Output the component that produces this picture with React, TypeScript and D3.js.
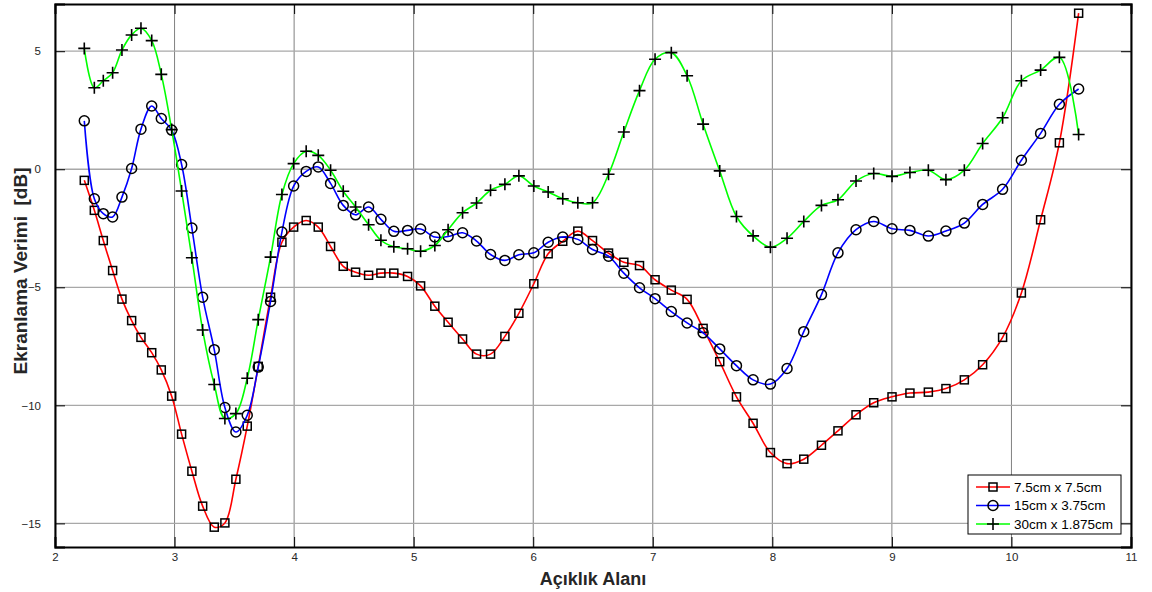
import React, { useEffect, useRef } from "react";
import * as d3 from "d3";

// aperture values (shared by all three series)
const apertures = [
  2.245, 2.329, 2.404, 2.482, 2.56, 2.641, 2.719, 2.809, 2.889, 2.976,
  3.059, 3.145, 3.235, 3.332, 3.421, 3.513, 3.608, 3.7, 3.803, 3.898,
  3.996, 4.101, 4.202, 4.305, 4.411, 4.514, 4.623, 4.726, 4.834, 4.949,
  5.058, 5.177, 5.288, 5.409, 5.526, 5.643, 5.763, 5.88, 6.005, 6.125,
  6.247, 6.373, 6.496, 6.63, 6.758, 6.889, 7.019, 7.155, 7.287, 7.421,
  7.56, 7.7, 7.839, 7.984, 8.123, 8.263, 8.411, 8.549, 8.7, 8.848,
  9.001, 9.151, 9.305, 9.452, 9.606, 9.759, 9.926, 10.083, 10.244, 10.401,
  10.562,
];

const series1 = [
  -0.47, -1.74, -3.02, -4.29, -5.5, -6.41, -7.12, -7.77, -8.5, -9.61,
  -11.22, -12.79, -14.27, -15.16, -14.98, -13.13, -10.88, -8.35, -5.42, -3.09,
  -2.45, -2.17, -2.45, -3.27, -4.11, -4.36, -4.49, -4.4, -4.4, -4.54,
  -4.94, -5.8, -6.48, -7.19, -7.83, -7.83, -7.08, -6.1, -4.85, -3.58,
  -3.05, -2.62, -3.02, -3.55, -3.94, -4.08, -4.68, -5.12, -5.51, -6.74,
  -8.15, -9.64, -10.76, -12.0, -12.47, -12.28, -11.69, -11.08, -10.4, -9.89,
  -9.64, -9.48, -9.44, -9.29, -8.92, -8.28, -7.12, -5.24, -2.14, 1.12,
  6.61,
];

const series2 = [
  2.05, -1.25, -1.88, -2.02, -1.18, 0.03, 1.7, 2.68, 2.15, 1.66,
  0.2, -2.49, -5.42, -7.64, -10.09, -11.13, -10.42, -8.38, -5.6, -2.66,
  -0.71, -0.09, 0.1, -0.6, -1.53, -1.93, -1.6, -2.12, -2.63, -2.59,
  -2.53, -2.87, -2.85, -2.69, -3.04, -3.61, -3.86, -3.62, -3.54, -3.09,
  -2.87, -2.97, -3.4, -3.68, -4.4, -5.02, -5.48, -6.03, -6.51, -6.93,
  -7.61, -8.32, -8.92, -9.1, -8.44, -6.88, -5.31, -3.54, -2.56, -2.21,
  -2.52, -2.59, -2.83, -2.62, -2.28, -1.49, -0.85, 0.38, 1.52, 2.75,
  3.4,
];

const series3 = [
  5.12, 3.45, 3.75, 4.09, 5.05, 5.69, 5.97, 5.45, 4.02, 1.68,
  -0.92, -3.75, -6.81, -9.12, -10.56, -10.35, -8.85, -6.37, -3.72, -1.07,
  0.24, 0.76, 0.59, -0.04, -0.93, -1.6, -2.35, -3.01, -3.28, -3.37,
  -3.47, -3.23, -2.56, -1.84, -1.43, -0.89, -0.64, -0.28, -0.71, -0.96,
  -1.25, -1.42, -1.42, -0.21, 1.58, 3.33, 4.66, 4.94, 3.96, 1.91,
  -0.07, -2.0, -2.82, -3.3, -2.92, -2.21, -1.53, -1.29, -0.5, -0.18,
  -0.3, -0.14, -0.04, -0.44, -0.04, 1.09, 2.18, 3.75, 4.2, 4.74,
  1.47,
];

const seriesNames = ["7.5cm x 7.5cm", "15cm x 3.75cm", "30cm x 1.875cm"];
const seriesColors = ["#ff0000", "#0000ff", "#00ff00"];
const seriesMarkers = ["square", "circle", "plus"];
const xTicks = [2, 3, 4, 5, 6, 7, 8, 9, 10, 11];
const yTicks = [-15, -10, -5, 0, 5];

const W = 1152;
const H = 592;
const margin = { top: 4, right: 21, bottom: 45, left: 55 };

function drawMarker(g: any, kind: string, x: number, y: number) {
  if (kind === "square") {
    g.append("rect").attr("x", x - 4).attr("y", y - 4).attr("width", 8).attr("height", 8)
      .attr("fill", "none").attr("stroke", "#000").attr("stroke-width", 1.5);
  } else if (kind === "circle") {
    g.append("circle").attr("cx", x).attr("cy", y).attr("r", 5)
      .attr("fill", "none").attr("stroke", "#000").attr("stroke-width", 1.5);
  } else {
    g.append("path").attr("d", `M${x - 6},${y}H${x + 6}M${x},${y - 6}V${y + 6}`)
      .attr("stroke", "#000").attr("stroke-width", 1.6);
  }
}

export default function App() {
  const ref = useRef<SVGSVGElement>(null);

  useEffect(() => {
    const svg = d3.select(ref.current);
    svg.selectAll("*").remove();

    const width = W - margin.left - margin.right;
    const height = H - margin.top - margin.bottom;

    const x = d3.scaleLinear().domain([2, 11]).range([margin.left, margin.left + width]);
    const y = d3.scaleLinear().domain([-16, 7]).range([margin.top + height, margin.top]);

    svg.append("rect").attr("x", 0).attr("y", 0).attr("width", W).attr("height", H).attr("fill", "#fff");

    // grid
    const grid = svg.append("g");
    xTicks.forEach(t => {
      grid.append("line").attr("x1", x(t)).attr("x2", x(t)).attr("y1", y(-16)).attr("y2", y(7))
        .attr("stroke", "#808080").attr("stroke-width", 1);
    });
    yTicks.forEach(t => {
      grid.append("line").attr("x1", x(2)).attr("x2", x(11)).attr("y1", y(t)).attr("y2", y(t))
        .attr("stroke", "#a8a8a8").attr("stroke-width", 1.3);
    });

    // axes (ticks pointing inward, box)
    const font = "'Liberation Sans', Arial, sans-serif";
    const xAxis = svg.append("g").attr("transform", `translate(0,${y(-16)})`)
      .call(d3.axisBottom(x).tickValues(xTicks).tickSize(-10).tickPadding(16).tickFormat(d3.format("d")));
    const yAxis = svg.append("g").attr("transform", `translate(${x(2)},0)`)
      .call(d3.axisLeft(y).tickValues(yTicks).tickSize(-10).tickPadding(14).tickFormat(d3.format("d")));
    svg.append("g").attr("transform", `translate(0,${y(7)})`)
      .call(d3.axisTop(x).tickValues(xTicks).tickSize(-10).tickFormat(() => ""));
    svg.append("g").attr("transform", `translate(${x(11)},0)`)
      .call(d3.axisRight(y).tickValues(yTicks).tickSize(-10).tickFormat(() => ""));
    svg.selectAll(".domain").attr("stroke", "#000").attr("stroke-width", 2);
    svg.selectAll(".tick line").attr("stroke", "#000").attr("stroke-width", 1);
    [xAxis, yAxis].forEach(a => a.selectAll("text").attr("font-family", font).attr("font-size", 11.5).attr("fill", "#262626"));
    xAxis.selectAll("text").attr("dy", "0.35em").attr("y", 10);

    const seriesValues = [series1, series2, series3];
    const line = d3.line<number>()
      .x((_, i) => x(apertures[i]))
      .y(d => y(d))
      .curve(d3.curveCatmullRom.alpha(0.5));

    seriesValues.forEach((vals, si) => {
      const g = svg.append("g");
      g.append("path").attr("d", line(vals)).attr("fill", "none")
        .attr("stroke", seriesColors[si]).attr("stroke-width", 1.6);
      vals.forEach((v, i) => drawMarker(g, seriesMarkers[si], x(apertures[i]), y(v)));
    });

    // labels
    svg.append("text").attr("x", (x(2) + x(11)) / 2).attr("y", 585)
      .attr("text-anchor", "middle").attr("font-family", font).attr("font-weight", "bold")
      .attr("font-size", 18).attr("fill", "#262626").text("Açıklık Alanı");
    svg.append("text").attr("transform", `translate(27,271) rotate(-90)`)
      .attr("text-anchor", "middle").attr("font-family", font).attr("font-weight", "bold")
      .attr("font-size", 19).attr("fill", "#262626").style("white-space", "pre")
      .text("Ekranlama Verimi  [dB]");

    // legend
    const lg = svg.append("g").attr("transform", "translate(968,475)");
    lg.append("rect").attr("width", 153).attr("height", 59).attr("fill", "#fff")
      .attr("stroke", "#000").attr("stroke-width", 1);
    seriesNames.forEach((name, i) => {
      const ly = 12 + i * 18.5;
      lg.append("line").attr("x1", 8).attr("x2", 42).attr("y1", ly).attr("y2", ly)
        .attr("stroke", seriesColors[i]).attr("stroke-width", 1.6);
      drawMarker(lg, seriesMarkers[i], 25, ly);
      lg.append("text").attr("x", 46).attr("y", ly).attr("dy", "0.35em")
        .attr("font-family", font).attr("font-size", 13.5).attr("fill", "#000").text(name);
    });
  }, []);

  return (
    <svg ref={ref} width={W} height={H}
      style={{ position: "absolute", left: 0, top: 0, display: "block" }} />
  );
}
